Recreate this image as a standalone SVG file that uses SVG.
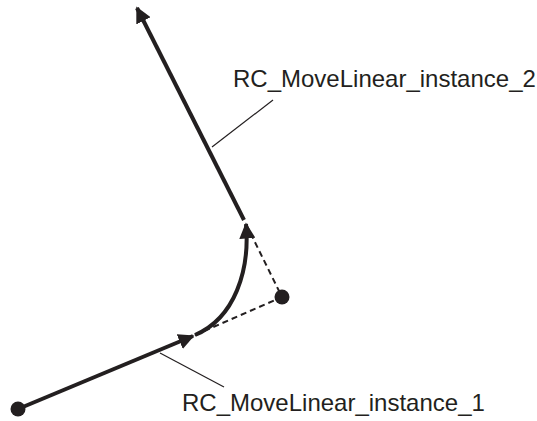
<svg xmlns="http://www.w3.org/2000/svg" width="537" height="421" viewBox="0 0 537 421">
<style>
.main{stroke:#231f20;stroke-width:4;fill:none}
.dash{stroke:#231f20;stroke-width:2;fill:none;stroke-dasharray:6,4}
.lead{stroke:#231f20;stroke-width:1.2;fill:none}
.dot{fill:#231f20}
.lbl{font-family:"Liberation Sans",Arial,sans-serif;font-size:24px;fill:#231f20}
</style>
<defs>
<marker id="ah" viewBox="0 0 10 10" refX="9" refY="5" markerWidth="4" markerHeight="4" markerUnits="strokeWidth" orient="auto">
<path d="M0,0 L10,5 L0,10 Z" fill="#231f20"/>
</marker>
</defs>
<rect width="537" height="421" fill="#fff"/>
<g id="connectors">
<path class="dash" d="M195,335 L282,297 L245,222"/>
<path class="main" d="M18,409 L193,336" marker-end="url(#ah)"/>
<path class="main" d="M195,335 C235,318 250,270 246,224" marker-end="url(#ah)"/>
<path class="main" d="M244,220 L137,8" marker-end="url(#ah)"/>
<path class="lead" d="M160,353 L224,387"/>
<path class="lead" d="M273,100 L212,147"/>
</g>
<g id="start"><circle class="dot" cx="18" cy="409" r="7.5"/></g>
<g id="corner"><circle class="dot" cx="282" cy="297" r="7.5"/></g>
<g id="label1"><text class="lbl" x="182" y="411">RC_MoveLinear_instance_1</text></g>
<g id="label2"><text class="lbl" x="233" y="87">RC_MoveLinear_instance_2</text></g>
</svg>
